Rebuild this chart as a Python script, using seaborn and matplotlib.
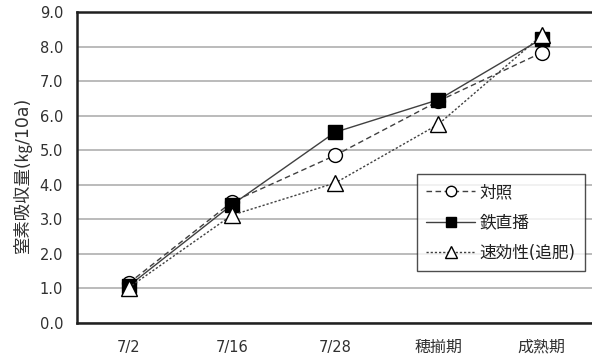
import matplotlib
matplotlib.use("Agg")
import matplotlib.pyplot as plt
import seaborn as sns
import pandas as pd

# Nitrogen uptake by growth stage
stages = ["7/2", "7/16", "7/28", "穂揃期", "成熟期"]
control = [1.15, 3.50, 4.85, 6.42, 7.82]
iron_direct = [1.07, 3.42, 5.52, 6.46, 8.22]
quick_release = [1.02, 3.12, 4.05, 5.75, 8.32]
series_names = ["対照", "鉄直播", "速効性(追肥)"]

sns.set_theme(style="white")
plt.rcParams["font.family"] = ["DejaVu Sans", "Noto Sans CJK JP"]

fig = plt.figure(figsize=(5.92, 3.58), dpi=100)
ax = fig.add_axes([77 / 592, 1 - 323 / 358, 1 - 77 / 592 + 0.002, (323 - 12) / 358])

line_color = "#404040"
styles = [
    dict(marker="o", linestyle=(0, (4, 2.5)), markerfacecolor="white", markersize=10),
    dict(marker="s", linestyle="-", markerfacecolor="black", markersize=9.5),
    dict(marker="^", linestyle=(0, (1.6, 1.4)), markerfacecolor="white", markersize=11),
]

for name, vals, st in zip(series_names, [control, iron_direct, quick_release], styles):
    df = pd.DataFrame({"stage": stages, "value": vals})
    sns.lineplot(data=df, x="stage", y="value", ax=ax, sort=False,
                 color=line_color, linewidth=1.0, marker=st["marker"],
                 linestyle=st["linestyle"], markersize=st["markersize"],
                 markerfacecolor=st["markerfacecolor"], markeredgecolor="black",
                 markeredgewidth=1.0, label=name)

text_color = "#303030"
ax.set_xlim(-0.5, 4.5)
ax.set_ylim(0, 9)
ax.set_yticks([i for i in range(10)])
ax.set_yticklabels([f"{i:.1f}" for i in range(10)], fontsize=10.5, color=text_color)
ax.set_xticks(range(len(stages)))
ax.set_xticklabels(stages, color=text_color)
for lab in ax.get_xticklabels():
    txt = lab.get_text()
    lab.set_fontsize(10.5 if txt.isascii() else 11.5)
ax.set_xticks([i - 0.5 for i in range(len(stages) + 1)], minor=True)
ax.tick_params(axis="x", which="major", length=0, pad=12)
ax.tick_params(axis="x", which="minor", length=4, width=1, color="#808080", direction="out")
ax.tick_params(axis="y", length=4, width=1, color="#808080", direction="out", pad=6)
ax.set_xlabel("")
ax.set_ylabel("窒素吸収量(㎏/10a)", fontsize=12.5, color=text_color)
ax.yaxis.set_label_coords(-0.088, 0.475)

ax.yaxis.grid(True, color="#a8a8a8", linewidth=1.1)
ax.xaxis.grid(False)
ax.set_axisbelow(True)
for side in ["left", "bottom", "top"]:
    ax.spines[side].set_visible(True)
    ax.spines[side].set_color("#202020")
    ax.spines[side].set_linewidth(1.8)
ax.spines["right"].set_visible(False)

leg = ax.legend(loc="upper right", bbox_to_anchor=(0.984, 0.479), borderaxespad=0,
                fontsize=12, frameon=True, fancybox=False, edgecolor="#202020",
                handlelength=2.9, labelspacing=0.75, markerscale=0.75,
                borderpad=0.55, handletextpad=0.3)
leg.get_frame().set_linewidth(1.0)
for t in leg.get_texts():
    t.set_color("#202020")

fig.savefig("out.png", dpi=100)
